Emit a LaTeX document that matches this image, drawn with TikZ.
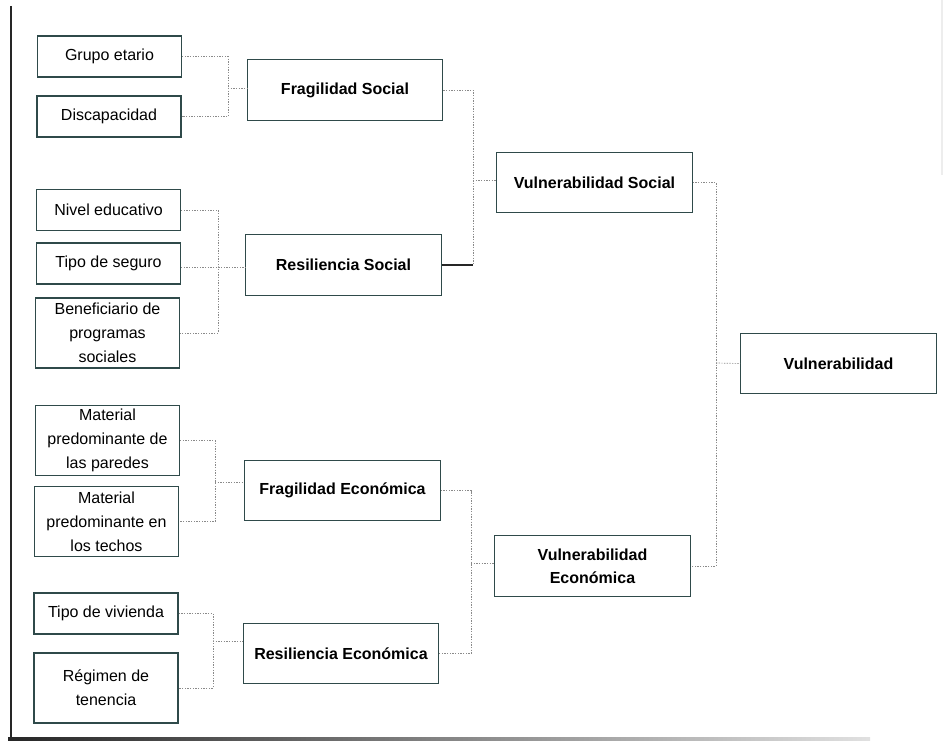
\documentclass[tikz,border=0pt]{standalone}
\usepackage{fontspec}
\setmainfont{Liberation Sans}
\usetikzlibrary{calc}
\definecolor{boxline}{HTML}{2F4A4A}
\definecolor{dotline}{HTML}{8A8A8A}
\tikzset{
  leaf/.style={draw=boxline, line width=0.9pt, align=center, inner sep=1pt,
    minimum width=108pt, font=\fontsize{12}{18}\selectfont},
  leafone/.style={leaf, minimum height=30.75pt},
  leaftwo/.style={leaf, minimum height=52.5pt},
  mid/.style={draw=boxline, line width=0.9pt, align=center, inner sep=1pt,
    minimum width=146.5pt, minimum height=45.5pt,
    font=\fontsize{12}{17}\selectfont\bfseries},
  conn/.style={draw=dotline, line width=0.5pt, dash pattern=on 1pt off 1pt},
  solidconn/.style={draw=black!85, line width=0.9pt}
}
\begin{document}
\begin{tikzpicture}[x=0.75pt,y=-0.75pt]
\useasboundingbox (0,0) rectangle (950,742);
% frame
\draw[black!85, line width=1.3pt] (11,6) -- (11,739);
\shade[left color=black!85, middle color=black!70, right color=black!12] (8,737.5) rectangle (870,740);
\draw[black!7, line width=0.8pt] (942,0) -- (942,175);

% leaf boxes
\node[leafone] (ge) at (109.5,56.5) {Grupo etario};
\node[leafone] (di) at (109,116.5) {Discapacidad};
\node[leafone] (ne) at (108.5,210) {Nivel educativo};
\node[leafone] (ts) at (108.5,263.5) {Tipo de seguro};
\node[leaftwo] (be) at (107.5,333) {Beneficiario de\\programas\\sociales};
\node[leaftwo] (mp) at (107.5,440.5) {Material\\predominante de\\las paredes};
\node[leaftwo] (mt) at (106.5,521.5) {Material\\predominante en\\los techos};
\node[leafone] (tv) at (106,613.5) {Tipo de vivienda};
\node[leaftwo] (rt) at (106,688) {Régimen de\\tenencia};

% middle boxes
\node[mid] (fs) at (345,90) {Fragilidad Social};
\node[mid] (rs) at (343.5,265) {Resiliencia Social};
\node[mid] (fe) at (342.5,490.5) {Fragilidad Económica};
\node[mid] (re) at (341,653.5) {Resiliencia Económica};
\node[mid] (vs) at (594.5,182.5) {Vulnerabilidad Social};
\node[mid] (ve) at (592.5,566) {Vulnerabilidad\\Económica};
\node[mid] (vu) at (838.5,363.5) {Vulnerabilidad};

% junctions
\coordinate (j1) at (228,88);
\coordinate (j2) at (218,267);
\coordinate (j3) at (215,482);
\coordinate (j4) at (213,641);
\coordinate (j5) at (473,180);
\coordinate (j6) at (471,563);
\coordinate (j7) at (716,363);

% connectors
\draw[conn] (ge.east) -| (j1) |- (di.east);
\draw[conn] (j1) -- (j1 -| fs.west);

\draw[conn] (ne.east) -| (j2) |- (be.east);
\draw[conn] (j2 -| ts.east) -- (j2 -| rs.west);

\draw[conn] (mp.east) -| (j3) |- (mt.east);
\draw[conn] (j3) -- (j3 -| fe.west);

\draw[conn] (tv.east) -| (j4) |- (rt.east);
\draw[conn] (j4) -- (j4 -| re.west);

\draw[conn] (fs.east) -| (j5) -- (j5 |- rs.east);
\draw[solidconn] (rs.east) -- (rs.east -| j5);
\draw[conn] (j5) -- (j5 -| vs.west);

\draw[conn] (fe.east) -| (j6) |- (re.east);
\draw[conn] (j6) -- (j6 -| ve.west);

\draw[conn] (vs.east) -| (j7) |- (ve.east);
\draw[conn] (j7) -- (vu.west);
\end{tikzpicture}
\end{document}
